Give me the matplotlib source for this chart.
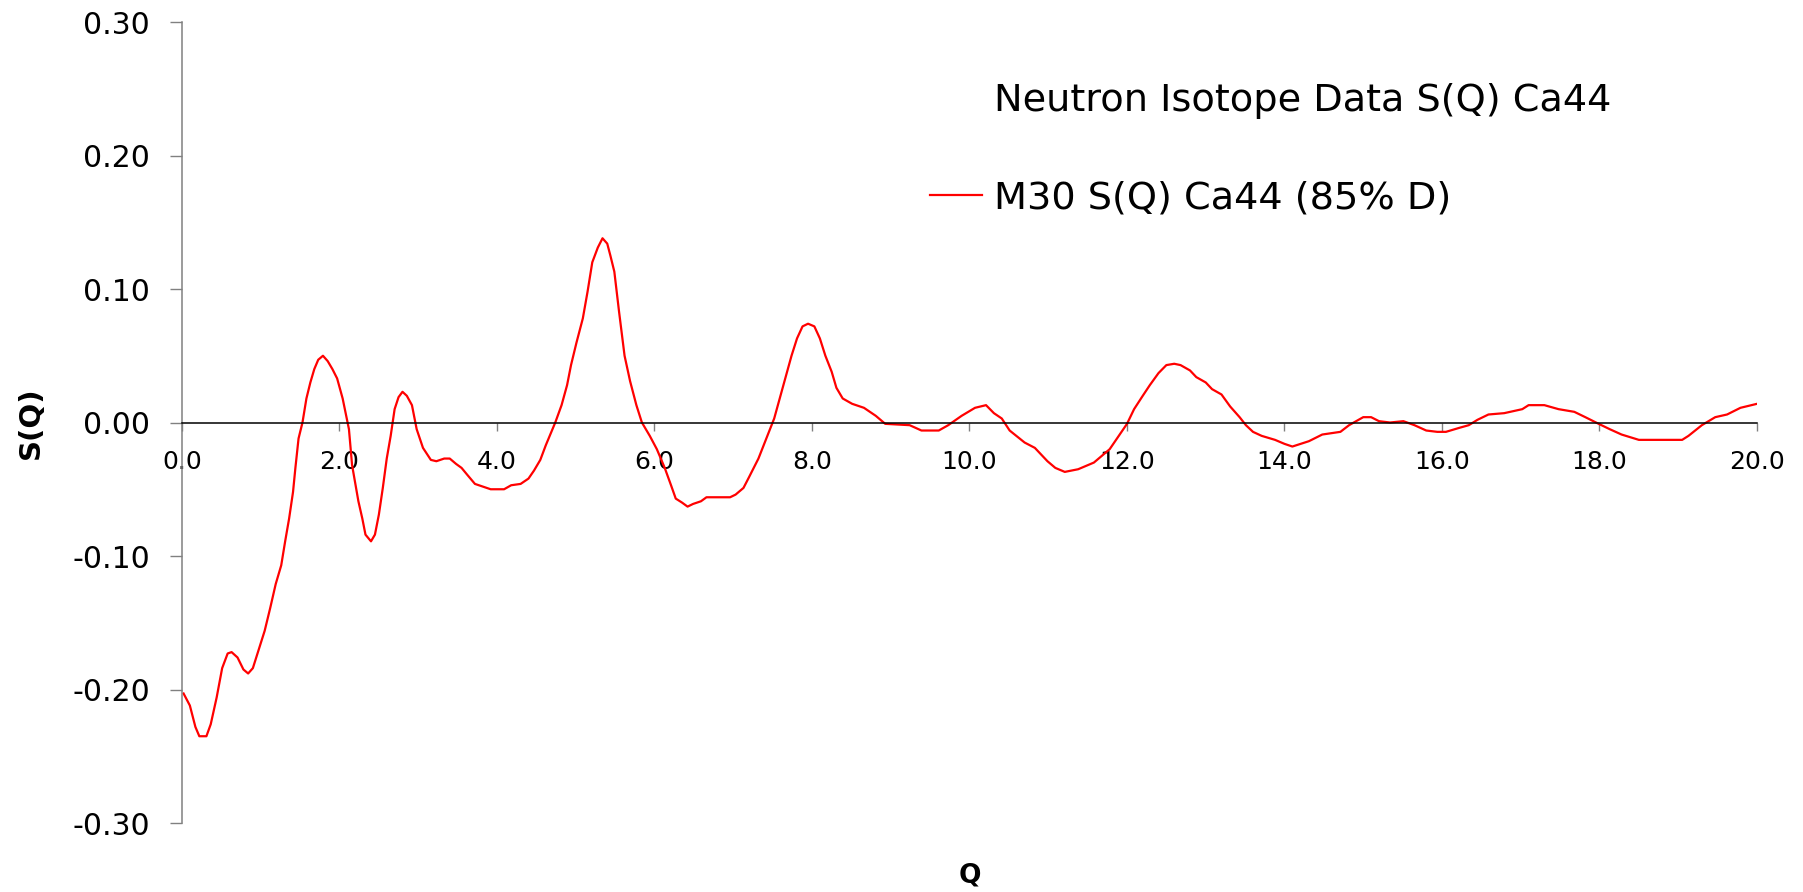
import matplotlib
matplotlib.use("Agg")
import matplotlib.pyplot as plt

# S(Q) for the Ca44 neutron isotope run
Q = [0.02, 0.10, 0.17, 0.22, 0.31, 0.365, 0.44, 0.51, 0.58, 0.63, 0.705, 0.78,
     0.84, 0.90, 0.97, 1.05, 1.12, 1.19, 1.26, 1.31, 1.36, 1.41, 1.44, 1.48,
     1.53, 1.58, 1.63, 1.68, 1.73, 1.79, 1.85, 1.91, 1.97, 2.04, 2.12, 2.16,
     2.24, 2.29, 2.33, 2.40, 2.45, 2.50, 2.55, 2.60, 2.65, 2.70, 2.75, 2.80,
     2.855, 2.92, 2.98, 3.06, 3.16, 3.23, 3.33, 3.40, 3.48, 3.55, 3.62, 3.72,
     3.82, 3.92, 4.09, 4.18, 4.30, 4.40, 4.47, 4.55, 4.62, 4.69, 4.74, 4.82,
     4.89, 4.94, 5.01, 5.09, 5.15, 5.21, 5.28, 5.34, 5.40, 5.44, 5.49, 5.55,
     5.62, 5.69, 5.77, 5.84, 5.94, 6.03, 6.13, 6.21, 6.27, 6.35, 6.42, 6.49,
     6.59, 6.66, 6.96, 7.03, 7.13, 7.20, 7.32, 7.44, 7.52, 7.59, 7.66, 7.74,
     7.81, 7.88, 7.95, 8.03, 8.10, 8.17, 8.25, 8.31, 8.39, 8.51, 8.66, 8.81,
     8.93, 9.24, 9.39, 9.61, 9.73, 9.90, 10.07, 10.21, 10.31, 10.41, 10.51,
     10.70, 10.83, 10.99, 11.09, 11.21, 11.38, 11.58, 11.78, 12.00, 12.09,
     12.20, 12.29, 12.40, 12.50, 12.60, 12.68, 12.80, 12.88, 13.00, 13.08,
     13.20, 13.31, 13.43, 13.51, 13.60, 13.71, 13.88, 14.00, 14.10, 14.31,
     14.48, 14.60, 14.71, 14.82, 15.00, 15.10, 15.20, 15.34, 15.51, 15.65,
     15.80, 15.94, 16.05, 16.22, 16.34, 16.45, 16.59, 16.79, 17.02, 17.10,
     17.30, 17.48, 17.68, 17.82, 17.99, 18.13, 18.28, 18.50, 18.79, 19.05,
     19.13, 19.30, 19.47, 19.62, 19.79, 20.00]
S = [-0.203, -0.212, -0.228, -0.235, -0.235, -0.226, -0.206, -0.184, -0.173,
     -0.172, -0.176, -0.185, -0.188, -0.184, -0.171, -0.156, -0.139, -0.121,
     -0.107, -0.089, -0.072, -0.052, -0.034, -0.012, 0.000, 0.018, 0.030,
     0.040, 0.047, 0.050, 0.046, 0.040, 0.033, 0.018, -0.005, -0.032, -0.059,
     -0.072, -0.084, -0.089, -0.084, -0.069, -0.049, -0.027, -0.010, 0.010,
     0.019, 0.023, 0.020, 0.013, -0.005, -0.019, -0.028, -0.029, -0.027,
     -0.027, -0.031, -0.034, -0.039, -0.046, -0.048, -0.050, -0.050, -0.047,
     -0.046, -0.042, -0.036, -0.028, -0.017, -0.007, 0.000, 0.013, 0.028,
     0.043, 0.060, 0.078, 0.098, 0.120, 0.131, 0.138, 0.134, 0.125, 0.113,
     0.083, 0.050, 0.031, 0.013, 0.000, -0.010, -0.020, -0.034, -0.047,
     -0.057, -0.060, -0.063, -0.061, -0.059, -0.056, -0.056, -0.054, -0.049,
     -0.041, -0.027, -0.009, 0.003, 0.018, 0.033, 0.050, 0.063, 0.072, 0.074,
     0.072, 0.063, 0.050, 0.038, 0.026, 0.018, 0.014, 0.011, 0.005, -0.001,
     -0.002, -0.006, -0.006, -0.002, 0.005, 0.011, 0.013, 0.007, 0.003,
     -0.006, -0.015, -0.019, -0.029, -0.034, -0.037, -0.035, -0.030, -0.020,
     -0.001, 0.010, 0.020, 0.028, 0.037, 0.043, 0.044, 0.043, 0.039, 0.034,
     0.030, 0.025, 0.021, 0.012, 0.004, -0.002, -0.007, -0.010, -0.013,
     -0.016, -0.018, -0.014, -0.009, -0.008, -0.007, -0.002, 0.004, 0.004,
     0.001, 0.000, 0.001, -0.002, -0.006, -0.007, -0.007, -0.004, -0.002,
     0.002, 0.006, 0.007, 0.010, 0.013, 0.013, 0.010, 0.008, 0.004, -0.001,
     -0.005, -0.009, -0.013, -0.013, -0.013, -0.010, -0.002, 0.004, 0.006,
     0.011, 0.014]

X_TICKS = [0, 2, 4, 6, 8, 10, 12, 14, 16, 18, 20]
Y_TICKS = [-0.30, -0.20, -0.10, 0.00, 0.10, 0.20, 0.30]

TITLE = "Neutron Isotope Data S(Q) Ca44"
SERIES = "M30 S(Q) Ca44 (85% D)"

plt.rcParams["font.family"] = ["DejaVu Sans"]

fig = plt.figure(figsize=(18.03, 8.92), dpi=100)
ax = fig.add_axes([0.10094, 0.07735, 0.87354, 0.89798])

ax.plot(Q, S, color="#ff0000", lw=1.6, label=SERIES)

ax.set_xlim(0, 20)
ax.set_ylim(-0.30, 0.30)
ax.set_xticks(X_TICKS)
ax.set_xticklabels([f"{t:.1f}" for t in X_TICKS])
ax.set_yticks(Y_TICKS)
ax.set_yticklabels([f"{t:.2f}" for t in Y_TICKS])

# x axis sits on S = 0, y axis on the left
ax.spines["top"].set_visible(False)
ax.spines["right"].set_visible(False)
ax.spines["bottom"].set_position(("data", 0))
ax.spines["bottom"].set_color("black")
ax.spines["bottom"].set_linewidth(1.1)
ax.spines["left"].set_color("#808080")
ax.spines["left"].set_linewidth(1.1)

ax.tick_params(axis="x", direction="out", length=6, width=1, color="#808080",
               labelsize=18, pad=14)
ax.tick_params(axis="y", direction="out", length=8.6, width=1, color="#808080",
               labelsize=21.5, pad=14.4)

ax.set_xlabel("Q", fontsize=19, fontweight="bold", va="center")
ax.xaxis.set_label_coords(0.5, -0.066)
ax.set_ylabel("S(Q)", fontsize=21, fontweight="bold", va="center")
ax.yaxis.set_label_coords(-0.0959, 0.5)

fig.text(0.5513, 1 - 111 / 892, TITLE, fontsize=27.5, ha="left", va="baseline")
ax.legend(loc="center left", bbox_to_anchor=(0.5158, 0.778),
          bbox_transform=fig.transFigure, frameon=False, fontsize=27.5,
          handlelength=1.36, handletextpad=0.31, borderpad=0, borderaxespad=0)

fig.savefig("out.png", dpi=100)
